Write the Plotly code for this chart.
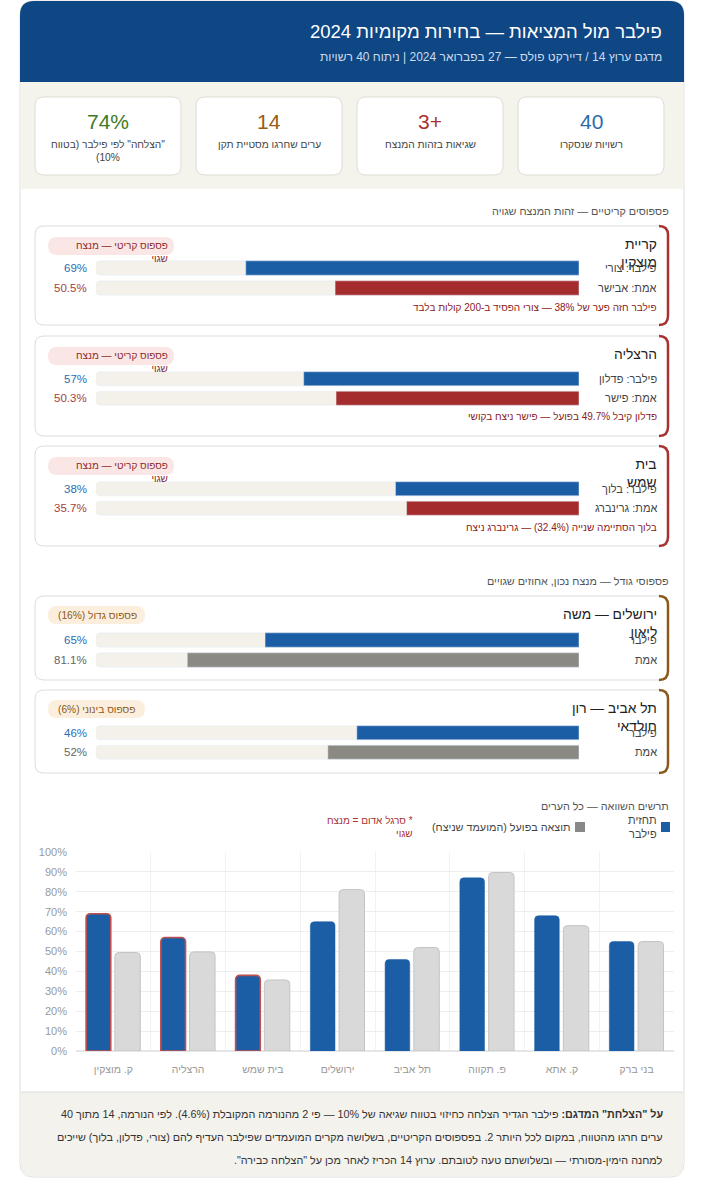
import plotly.graph_objects as go

W, H = 704, 1200

# ---------------- data ----------------
kpi_values = ["40", "+3", "14", "74%"]
kpi_labels = ["רשויות שנסקרו", "שגיאות בזהות המנצח", "ערים שחרגו מסטיית תקן",
              "\"הצלחה\" לפי פילבר (בטווח<br>10%)"]
kpi_colors = ["#2b6cb0", "#a83232", "#9a5b14", "#3e7b21"]

crit_titles = ["קריית<br>מוצקין", "הרצליה", "בית<br>שמש"]
crit_pred_labels = ["פילבר: צורי", "פילבר: פדלון", "פילבר: בלוך"]
crit_actual_labels = ["אמת: אבישר", "אמת: פישר", "אמת: גרינברג"]
crit_pred = [69, 57, 38]
crit_actual = [50.5, 50.3, 35.7]
crit_notes = ["פילבר חזה פער של 38% — צורי הפסיד ב-200 קולות בלבד",
              "פדלון קיבל 49.7% בפועל — פישר ניצח בקושי",
              "בלוך הסתיימה שנייה (32.4%) — גרינברג ניצח"]
crit_badge = "פספוס קריטי — מנצח<br>שגוי"

size_titles = ["ירושלים — משה<br>ליאון", "תל אביב — רון<br>חולדאי"]
size_pred = [65, 46]
size_actual = [81.1, 52]
size_badges = ["פספוס גדול (16%)", "פספוס בינוני (6%)"]

cmp_cities = ["ק. מוצקין", "הרצליה", "בית שמש", "ירושלים", "תל אביב", "פ. תקווה", "ק. אתא", "בני ברק"]
cmp_pred = [69, 57, 38, 65, 46, 87, 68, 55]
cmp_actual = [49.5, 49.8, 35.7, 81.1, 52, 89.7, 63, 55]
cmp_wrong = [True, True, True, False, False, False, False, False]

footer_lines = [
    "<b>על \"הצלחת\" המדגם:</b> פילבר הגדיר הצלחה כחיזוי בטווח שגיאה של 10% — פי 2 מהנורמה המקובלת (4.6%). לפי הנורמה, 14 מתוך 40",
    "ערים חרגו מהטווח, במקום לכל היותר 2. בפספוסים הקריטיים, בשלושה מקרים המועמדים שפילבר העדיף להם (צורי, פדלון, בלוך) שייכים",
    "למחנה הימין-מסורתי — ובשלושתם טעה לטובתם. ערוץ 14 הכריז לאחר מכן על \"הצלחה כבירה\".",
]

# ---------------- styling ----------------
FONT = "Liberation Sans, Arial, sans-serif"
BLUE = "#1b5ea6"
RED = "#a52c2c"
GRAY_BAR = "#8a8984"
TRACK = "#f3f1ea"
BEIGE = "#f4f3ec"


def X(p):
    return p / W


def Y(p):
    return 1 - p / H


def rtl(s):
    return "<br>".join("\u202b" + ln + "\u202c" for ln in s.split("<br>"))


def rr_path(x0, y0, x1, y1, r=(8, 8, 8, 8)):
    tl, tr, br, bl = r
    def P(x, y):
        return f"{X(x):.5f},{Y(y):.5f}"
    return (f"M {P(x0 + tl, y0)} L {P(x1 - tr, y0)} Q {P(x1, y0)} {P(x1, y0 + tr)} "
            f"L {P(x1, y1 - br)} Q {P(x1, y1)} {P(x1 - br, y1)} "
            f"L {P(x0 + bl, y1)} Q {P(x0, y1)} {P(x0, y1 - bl)} "
            f"L {P(x0, y0 + tl)} Q {P(x0, y0)} {P(x0 + tl, y0)} Z")


def accent_path(x1, y0, y1, r=8):
    def P(x, y):
        return f"{X(x):.5f},{Y(y):.5f}"
    return (f"M {P(x1 - r, y0)} Q {P(x1, y0)} {P(x1, y0 + r)} L {P(x1, y1 - r)} "
            f"Q {P(x1, y1)} {P(x1 - r, y1)}")


shapes = []
annots = []


def rect(x0, y0, x1, y1, fill, line="rgba(0,0,0,0)", lw=1, r=(8, 8, 8, 8)):
    shapes.append(dict(type="path", xref="paper", yref="paper", path=rr_path(x0, y0, x1, y1, r),
                       fillcolor=fill, line=dict(color=line, width=lw), layer="below"))


def text(x, y, s, size=12, color="#333", xanchor="right", yanchor="middle", align="right",
         xref="paper", yref="paper", xshift=0, raw_x=False, raw_y=False):
    annots.append(dict(x=x if raw_x else X(x), y=y if raw_y else Y(y), xref=xref, yref=yref,
                       text=rtl(s), showarrow=False, xanchor=xanchor, yanchor=yanchor,
                       align=align, xshift=xshift,
                       font=dict(size=size, color=color, family=FONT)))


# outer container
rect(20, 1, 684, 1177, "white", line="#dddddd", lw=1, r=(14, 14, 14, 14))
# header
rect(20, 1, 684, 82, "#0e4784", r=(14, 14, 0, 0))
text(664, 31, "פילבר מול המציאות — בחירות מקומיות 2024", size=18.5, color="white")
text(664, 57, "מדגם ערוץ 14 / דיירקט פולס — 27 בפברואר 2024 | ניתוח 40 רשויות", size=12, color="#cddbee")
# KPI band
rect(20.5, 82, 683.5, 189, BEIGE, r=(0, 0, 0, 0))
kpi_x = [(518, 664), (357, 503), (196, 342), (35, 181)]
for (a, b), v, lab, c in zip(kpi_x, kpi_values, kpi_labels, kpi_colors):
    rect(a, 97, b, 175, "white", line="#dedcd5", lw=1, r=(9, 9, 9, 9))
    text((a + b) / 2, 121, v, size=21, color=c, xanchor="center", align="center")
    text((a + b) / 2, 137, lab, size=10.2, color="#444", xanchor="center", yanchor="top", align="center")

# footer
rect(20.5, 1092, 683.5, 1176.5, "#f3f2ec", r=(0, 0, 13, 13))
shapes.append(dict(type="line", xref="paper", yref="paper", x0=X(20.5), x1=X(683.5), y0=Y(1092), y1=Y(1092),
                   line=dict(color="#dddddd", width=1)))
for i, ln in enumerate(footer_lines):
    text(665, 1114 + 23 * i, ln, size=10.8, color="#333")

# section titles
text(671, 211, "פספוסים קריטיים — זהות המנצח שגויה", size=10.8, color="#555")
text(671, 581, "פספוסי גודל — מנצח נכון, אחוזים שגויים", size=10.8, color="#555")
text(671, 806, "תרשים השוואה — כל הערים", size=10.8, color="#555")

# ---------------- cards ----------------
cards = [
    dict(y0=226, y1=325, r1=268, r2=288, accent="#a83232"),
    dict(y0=336, y1=436, r1=379, r2=398, accent="#a83232"),
    dict(y0=446, y1=546, r1=489, r2=508, accent="#a83232"),
    dict(y0=596, y1=680, r1=640, r2=660, accent="#8b5a1b"),
    dict(y0=690, y1=773, r1=733, r2=752, accent="#8b5a1b"),
]

fig = go.Figure()
layout_axes = {}

card_titles = crit_titles + size_titles
pred_labels = crit_pred_labels + ["פילבר", "פילבר"]
act_labels = crit_actual_labels + ["אמת", "אמת"]
preds = crit_pred + size_pred
acts = crit_actual + size_actual
act_colors = [RED] * 3 + [GRAY_BAR] * 2
act_txt_colors = ["#a63d3d"] * 3 + ["#666666"] * 2

for i, cd in enumerate(cards):
    k = i + 1
    xa, ya = f"x{k}", f"y{k}"
    rect(35, cd["y0"], 668, cd["y1"], "white", line="#dcdcdc", lw=1, r=(9, 9, 9, 9))
    shapes.append(dict(type="path", xref="paper", yref="paper", path=accent_path(668, cd["y0"], cd["y1"], 9),
                       line=dict(color=cd["accent"], width=2.5), layer="below"))
    layout_axes[f"xaxis{k}"] = dict(domain=[X(96), X(579)], range=[100, 0], visible=False,
                                    fixedrange=True, anchor=ya)
    layout_axes[f"yaxis{k}"] = dict(domain=[Y(cd["r2"] + 10), Y(cd["r1"] - 10)], range=[1.5, -0.5],
                                    visible=False, fixedrange=True, anchor=xa)
    fig.add_trace(go.Bar(x=[100, 100], y=[0, 1], orientation="h", width=0.72, marker=dict(color=TRACK),
                         xaxis=xa, yaxis=ya, hoverinfo="skip", showlegend=False))
    fig.add_trace(go.Bar(x=[preds[i], acts[i]], y=[0, 1], orientation="h", width=0.72,
                         marker=dict(color=[BLUE, act_colors[i]]),
                         xaxis=xa, yaxis=ya, showlegend=False))
    # titles
    text(659, cd["y0"] + 9, card_titles[i], size=13.8, color="#222", yanchor="top")
    # row labels
    text(659, 0, pred_labels[i], size=11, color="#444", yref=ya, raw_y=True)
    text(659, 1, act_labels[i], size=11, color="#444", yref=ya, raw_y=True)
    # values
    text(100, 0, f"{preds[i]:g}%", size=11.5, color="#2b6cb0", xref=xa, yref=ya, raw_x=True, raw_y=True,
         xshift=-7)
    text(100, 1, f"{acts[i]:g}%", size=11.5, color=act_txt_colors[i], xref=xa, yref=ya, raw_x=True,
         raw_y=True, xshift=-7)
    # badges and notes
    if i < 3:
        rect(48, cd["y0"] + 11, 174, cd["y0"] + 29, "#fbe6e6", r=(9, 9, 9, 9))
        text(170, cd["y0"] + 12, crit_badge, size=10, color="#8a2b2b", yanchor="top")
        text(659, cd["y0"] + 81, crit_notes[i], size=10, color="#8a2020")
    else:
        rect(48, cd["y0"] + 10, 145, cd["y0"] + 28, "#fbeedd", r=(9, 9, 9, 9))
        text(97, cd["y0"] + 19, size_badges[i - 3], size=10.2, color="#8b5a1b", xanchor="center", align="center")

# ---------------- comparison chart ----------------
fig.add_trace(go.Bar(x=cmp_cities, y=cmp_pred, width=0.33, offset=-0.365,
                     marker=dict(color=BLUE, line=dict(color=["#c0504d" if w else BLUE for w in cmp_wrong],
                                                       width=[1.6 if w else 0.5 for w in cmp_wrong])),
                     xaxis="x6", yaxis="y6", showlegend=False, name="תחזית פילבר"))
fig.add_trace(go.Bar(x=cmp_cities, y=cmp_actual, width=0.34, offset=0.02,
                     marker=dict(color="#d9d9d9", line=dict(color="#c4c4c4", width=1)),
                     xaxis="x6", yaxis="y6", showlegend=False, name="תוצאה בפועל"))
layout_axes["xaxis6"] = dict(domain=[X(76), X(674)], anchor="y6", range=[-0.5, 7.5], tickson="boundaries",
                             showgrid=True, gridcolor="#f2f2f2", ticks="", showline=False, fixedrange=True,
                             automargin=False, ticklabelstandoff=10,
                             tickfont=dict(size=10.5, color="#999", family=FONT))
layout_axes["yaxis6"] = dict(domain=[Y(1051), Y(852)], anchor="x6", range=[0, 100], dtick=10, ticksuffix="%",
                             gridcolor="#eeeeee", zeroline=True, zerolinecolor="#e6e6e6", fixedrange=True,
                             ticklabelstandoff=8, automargin=False,
                             tickfont=dict(size=11, color="#999", family=FONT))

# legend
shapes.append(dict(type="rect", xref="paper", yref="paper", x0=X(661), x1=X(670), y0=Y(832), y1=Y(822),
                   fillcolor=BLUE, line=dict(width=0)))
text(659, 827, "תחזית<br>פילבר", size=11, color="#444")
shapes.append(dict(type="rect", xref="paper", yref="paper", x0=X(575), x1=X(585), y0=Y(832), y1=Y(822),
                   fillcolor="#888888", line=dict(width=0)))
text(572, 827, "תוצאה בפועל (המועמד שניצח)", size=10.8, color="#444")
text(415, 827, "* סרגל אדום = מנצח<br>שגוי", size=10, color="#a83232")

fig.update_layout(width=W, height=H, margin=dict(l=0, r=0, t=0, b=0, pad=0, autoexpand=False),
                  paper_bgcolor="white",
                  plot_bgcolor="rgba(0,0,0,0)", barmode="overlay", barcornerradius=4,
                  font=dict(family=FONT), shapes=shapes, annotations=annots, **layout_axes)

fig.write_html("out.html", config={"displayModeBar": False},
               post_script="document.body.style.margin='0';document.body.style.overflow='hidden';")
